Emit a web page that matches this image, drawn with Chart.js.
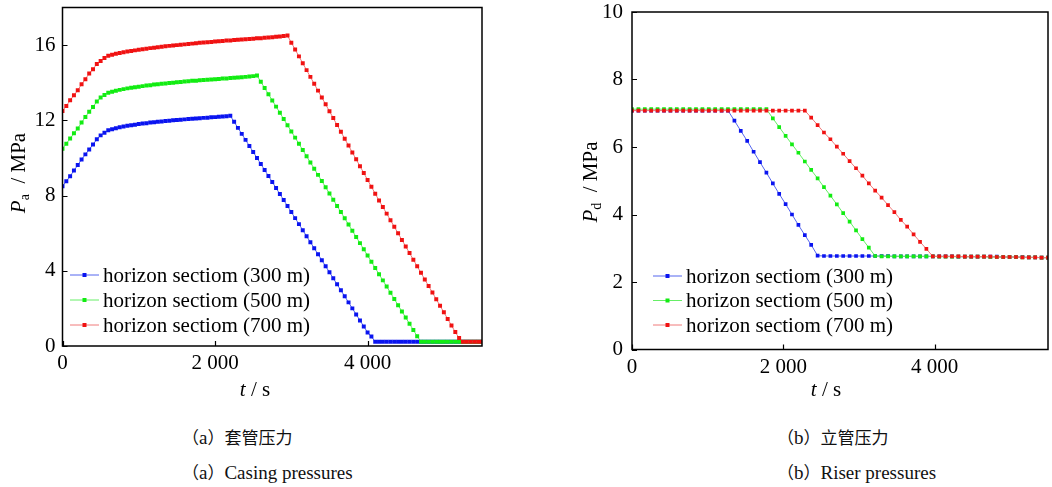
<!DOCTYPE html>
<html>
<head>
<meta charset="utf-8">
<script src="https://cdn.jsdelivr.net/npm/chart.js@4.4.1/dist/chart.umd.min.js"></script>
<style>
  html, body { margin: 0; padding: 0; background: #fff; overflow: hidden; }
  #page { position: relative; width: 1052px; height: 487px; }
  canvas { position: absolute; top: 0; }
  #casing-chart { left: 0; }
  #riser-chart { left: 540px; }
  .cap { position: absolute; white-space: nowrap; line-height: 1; color: #111; font-size: 17px; }
  .cn { font-family: "Noto Sans CJK SC", sans-serif; }
  .en { font-family: "Liberation Serif", "DejaVu Serif", serif; font-size: 19px; }
</style>
</head>
<body>
<div id="page">
  <canvas id="casing-chart" width="500" height="420"></canvas>
  <canvas id="riser-chart" width="512" height="420"></canvas>
  <div class="cap" style="left:182px;top:428px"><span class="cn">（</span><span class="en">a</span><span class="cn">）套管压力</span></div>
  <div class="cap" style="left:182px;top:463px"><span class="cn">（</span><span class="en">a</span><span class="cn">）</span><span class="en">Casing pressures</span></div>
  <div class="cap" style="left:777px;top:428px"><span class="cn">（</span><span class="en">b</span><span class="cn">）立管压力</span></div>
  <div class="cap" style="left:777px;top:463px"><span class="cn">（</span><span class="en">b</span><span class="cn">）</span><span class="en">Riser pressures</span></div>
</div>
<script>
// (a) casing pressure, one sample every 50 s
const casingTime = [
  0, 50, 100, 150, 200, 250, 300, 350, 400, 450,
  500, 550, 600, 650, 700, 750, 800, 850, 900, 950,
  1000, 1050, 1100, 1150, 1200, 1250, 1300, 1350, 1400, 1450,
  1500, 1550, 1600, 1650, 1700, 1750, 1800, 1850, 1900, 1950,
  2000, 2050, 2100, 2150, 2200, 2250, 2300, 2350, 2400, 2450,
  2500, 2550, 2600, 2650, 2700, 2750, 2800, 2850, 2900, 2950,
  3000, 3050, 3100, 3150, 3200, 3250, 3300, 3350, 3400, 3450,
  3500, 3550, 3600, 3650, 3700, 3750, 3800, 3850, 3900, 3950,
  4000, 4050, 4100, 4150, 4200, 4250, 4300, 4350, 4400, 4450,
  4500, 4550, 4600, 4650, 4700, 4750, 4800, 4850, 4900, 4950,
  5000, 5050, 5100, 5150, 5200, 5250, 5300, 5350, 5400, 5450,
  5500,
];
const casing300 = [
  8.50, 8.76, 9.03, 9.33, 9.62, 9.92, 10.19, 10.45, 10.72, 10.99,
  11.20, 11.34, 11.47, 11.53, 11.58, 11.63, 11.67, 11.71, 11.74, 11.77,
  11.80, 11.83, 11.85, 11.88, 11.90, 11.92, 11.94, 11.96, 11.98, 12.00,
  12.02, 12.03, 12.05, 12.07, 12.08, 12.10, 12.11, 12.13, 12.14, 12.16,
  12.17, 12.19, 12.20, 12.22, 12.24, 11.92, 11.60, 11.28, 10.96, 10.64,
  10.32, 10.00, 9.68, 9.36, 9.04, 8.72, 8.40, 8.08, 7.76, 7.44,
  7.12, 6.80, 6.48, 6.16, 5.84, 5.52, 5.20, 4.88, 4.56, 4.24,
  3.92, 3.60, 3.28, 2.96, 2.64, 2.32, 2.00, 1.68, 1.36, 1.04,
  0.72, 0.50, 0.23, 0.23, 0.23, 0.23, 0.23, 0.23, 0.23, 0.23,
  0.23, 0.23, 0.23, 0.23, 0.23, 0.23, 0.23, 0.23, 0.23, 0.23,
  0.23, 0.23, 0.23, 0.23, 0.23, 0.23, 0.23, 0.23, 0.23, 0.23,
  0.23,
];
const casing500 = [
  10.49, 10.76, 11.03, 11.31, 11.57, 11.88, 12.18, 12.46, 12.71, 13.00,
  13.21, 13.35, 13.47, 13.52, 13.57, 13.62, 13.66, 13.70, 13.73, 13.76,
  13.79, 13.82, 13.85, 13.87, 13.90, 13.92, 13.94, 13.96, 13.98, 14.00,
  14.02, 14.04, 14.06, 14.08, 14.10, 14.11, 14.13, 14.14, 14.16, 14.17,
  14.19, 14.20, 14.22, 14.23, 14.25, 14.26, 14.28, 14.29, 14.31, 14.33,
  14.35, 14.38, 14.05, 13.72, 13.39, 13.06, 12.73, 12.40, 12.07, 11.74,
  11.41, 11.08, 10.75, 10.42, 10.09, 9.76, 9.43, 9.10, 8.77, 8.44,
  8.11, 7.78, 7.45, 7.12, 6.79, 6.46, 6.13, 5.80, 5.47, 5.14,
  4.81, 4.48, 4.15, 3.82, 3.49, 3.16, 2.83, 2.50, 2.17, 1.84,
  1.51, 1.18, 0.85, 0.52, 0.23, 0.23, 0.23, 0.23, 0.23, 0.23,
  0.23, 0.23, 0.23, 0.23, 0.23, 0.23, 0.23, 0.23, 0.23, 0.23,
  0.23,
];
const casing700 = [
  12.50, 12.76, 13.07, 13.33, 13.60, 13.92, 14.19, 14.49, 14.72, 15.00,
  15.16, 15.31, 15.43, 15.49, 15.54, 15.58, 15.62, 15.66, 15.69, 15.72,
  15.75, 15.78, 15.81, 15.84, 15.86, 15.89, 15.91, 15.94, 15.96, 15.98,
  16.00, 16.02, 16.04, 16.06, 16.08, 16.10, 16.12, 16.14, 16.15, 16.17,
  16.19, 16.20, 16.22, 16.24, 16.25, 16.27, 16.28, 16.30, 16.31, 16.33,
  16.34, 16.36, 16.37, 16.39, 16.40, 16.42, 16.44, 16.46, 16.48, 16.51,
  16.13, 15.77, 15.40, 15.04, 14.67, 14.31, 13.94, 13.58, 13.21, 12.85,
  12.48, 12.12, 11.75, 11.39, 11.02, 10.66, 10.29, 9.93, 9.56, 9.20,
  8.83, 8.47, 8.10, 7.74, 7.39, 7.04, 6.69, 6.34, 5.99, 5.64,
  5.29, 4.94, 4.59, 4.24, 3.89, 3.54, 3.19, 2.84, 2.49, 2.14,
  1.79, 1.44, 1.09, 0.74, 0.42, 0.23, 0.23, 0.23, 0.23, 0.23,
  0.23,
];

// (b) riser pressure, one sample every ~85 s
const riserTime = [
  0, 85, 169, 254, 338, 423, 508, 592, 677, 762,
  846, 931, 1015, 1100, 1185, 1269, 1354, 1438, 1523, 1608,
  1692, 1777, 1862, 1946, 2031, 2115, 2200, 2285, 2369, 2454,
  2538, 2623, 2708, 2792, 2877, 2962, 3046, 3131, 3215, 3300,
  3385, 3469, 3554, 3638, 3723, 3808, 3892, 3977, 4062, 4146,
  4231, 4315, 4400, 4485, 4569, 4654, 4738, 4823, 4908, 4992,
  5077, 5162, 5246, 5331, 5415, 5500,
];
const riser300 = [
  7.08, 7.08, 7.08, 7.08, 7.08, 7.08, 7.08, 7.08, 7.08, 7.08,
  7.08, 7.08, 7.08, 7.08, 7.08, 7.08, 6.78, 6.48, 6.18, 5.86,
  5.55, 5.24, 4.92, 4.61, 4.31, 4.00, 3.69, 3.39, 3.10, 2.78,
  2.77, 2.77, 2.77, 2.77, 2.77, 2.77, 2.77, 2.77, 2.77, 2.77,
  2.77, 2.76, 2.76, 2.76, 2.76, 2.76, 2.76, 2.76, 2.76, 2.76,
  2.76, 2.75, 2.75, 2.75, 2.75, 2.75, 2.75, 2.75, 2.74, 2.74,
  2.74, 2.74, 2.73, 2.73, 2.72, 2.72,
];
const riser500 = [
  7.12, 7.12, 7.12, 7.12, 7.12, 7.12, 7.12, 7.12, 7.12, 7.12,
  7.12, 7.12, 7.12, 7.12, 7.12, 7.12, 7.12, 7.12, 7.12, 7.12,
  7.12, 7.12, 6.85, 6.59, 6.33, 6.08, 5.83, 5.57, 5.32, 5.07,
  4.81, 4.56, 4.30, 4.04, 3.79, 3.53, 3.27, 3.02, 2.77, 2.76,
  2.76, 2.76, 2.76, 2.76, 2.76, 2.76, 2.76, 2.76, 2.75, 2.75,
  2.75, 2.75, 2.75, 2.75, 2.75, 2.75, 2.74, 2.74, 2.74, 2.74,
  2.74, 2.73, 2.73, 2.73, 2.72, 2.72,
];
const riser700 = [
  7.08, 7.08, 7.08, 7.08, 7.08, 7.08, 7.08, 7.08, 7.08, 7.08,
  7.08, 7.08, 7.08, 7.08, 7.08, 7.08, 7.08, 7.08, 7.08, 7.08,
  7.08, 7.08, 7.08, 7.08, 7.08, 7.08, 7.08, 7.08, 6.87, 6.65,
  6.43, 6.23, 6.01, 5.80, 5.58, 5.37, 5.15, 4.92, 4.71, 4.50,
  4.28, 4.07, 3.84, 3.64, 3.41, 3.19, 2.98, 2.76, 2.76, 2.76,
  2.76, 2.76, 2.75, 2.75, 2.75, 2.75, 2.75, 2.74, 2.74, 2.74,
  2.74, 2.73, 2.73, 2.73, 2.72, 2.72,
];

const seriesLabels = ["horizon sectiom (300 m)", "horizon sectiom (500 m)", "horizon sectiom (700 m)"];
const markerColors = ["#0a14f0", "#12ec12", "#f01212"];
const lineColors = ["#5566ee", "#66ee66", "#f07a7a"];

const SERIF = '"Liberation Serif", "DejaVu Serif", serif';

function toPoints(times, values) {
  return times.map((t, i) => ({ x: t, y: values[i] }));
}

function isMajor(tick) {
  return tick.label !== null && tick.label !== undefined && tick.label !== "";
}

// box frame, inward ticks, in-plot legend and the mixed-style axis titles
const paperFrame = {
  id: "paperFrame",
  afterDatasetsDraw(chart, args, opts) {
    const { ctx, chartArea: a, scales: { x, y } } = chart;
    ctx.save();

    ctx.strokeStyle = "#000";
    ctx.lineWidth = 1.2;
    ctx.beginPath();
    y.ticks.forEach((tick) => {
      const py = Math.round(y.getPixelForValue(tick.value)) + 0.5;
      const len = isMajor(tick) ? 5 : 3;
      ctx.moveTo(a.left, py);
      ctx.lineTo(a.left + len, py);
    });
    x.ticks.forEach((tick) => {
      const px = Math.round(x.getPixelForValue(tick.value)) + 0.5;
      const len = isMajor(tick) ? 5 : 3;
      ctx.moveTo(px, a.bottom);
      ctx.lineTo(px, a.bottom - len);
    });
    ctx.stroke();

    ctx.lineWidth = 1.5;
    ctx.strokeRect(a.left, a.top, a.right - a.left, a.bottom - a.top);

    // legend: short line + marker + label
    const lg = opts.legend;
    ctx.font = `21px ${SERIF}`;
    ctx.textBaseline = "middle";
    ctx.fillStyle = "#000";
    chart.data.datasets.forEach((ds, i) => {
      const ly = lg.top + i * lg.gap;
      ctx.strokeStyle = ds.borderColor;
      ctx.lineWidth = 1;
      ctx.beginPath();
      ctx.moveTo(lg.left, ly);
      ctx.lineTo(lg.left + 29, ly);
      ctx.stroke();
      ctx.fillStyle = ds.pointBackgroundColor;
      ctx.fillRect(lg.left + 12.5, ly - 2, 4, 4);
      ctx.fillStyle = "#000";
      ctx.fillText(ds.label, lg.left + 33, ly + 1);
    });

    // x title: italic t / s
    const xt = opts.xTitle;
    ctx.textBaseline = "alphabetic";
    ctx.font = `italic 21px ${SERIF}`;
    const wT = ctx.measureText("t").width;
    ctx.font = `21px ${SERIF}`;
    const wRest = ctx.measureText(" / s").width;
    const sx = xt.cx - (wT + wRest) / 2;
    ctx.font = `italic 21px ${SERIF}`;
    ctx.fillText("t", sx, xt.cy + 7);
    ctx.font = `21px ${SERIF}`;
    ctx.fillText(" / s", sx + wT, xt.cy + 7);

    // y title: italic P with subscript, rotated
    const yt = opts.yTitle;
    ctx.translate(yt.cx, yt.cy);
    ctx.rotate(-Math.PI / 2);
    ctx.font = `italic 21px ${SERIF}`;
    const wP = ctx.measureText("P").width;
    ctx.font = `14px ${SERIF}`;
    const wSub = ctx.measureText(yt.sub).width;
    ctx.font = `21px ${SERIF}`;
    const wUnit = ctx.measureText("  / MPa").width;
    const sy = -(wP + wSub + wUnit) / 2;
    ctx.font = `italic 21px ${SERIF}`;
    ctx.fillText("P", sy, 7);
    ctx.font = `14px ${SERIF}`;
    ctx.fillText(yt.sub, sy + wP, 11);
    ctx.font = `21px ${SERIF}`;
    ctx.fillText("  / MPa", sy + wP + wSub, 7);

    ctx.restore();
  },
};

function buildDatasets(times, seriesValues, pointRadius) {
  return seriesValues.map((values, i) => ({
    label: seriesLabels[i],
    data: toPoints(times, values),
    borderColor: lineColors[i],
    borderWidth: 1,
    pointStyle: "rect",
    pointRadius,
    pointBorderWidth: 0,
    pointBackgroundColor: markerColors[i],
    tension: 0,
    order: 3 - i,
  }));
}

function timeTick(value) {
  if (value % 2000 !== 0) return null;
  return value === 0 ? "0" : `${value / 1000} 000`;
}

// fixed axis boxes so the plot area lands where the figure has it
function fixBox(scale, size) {
  if (scale.isHorizontal()) scale.height = size;
  else scale.width = size;
  scale.paddingTop = 0;
  scale.paddingBottom = 0;
  scale.paddingLeft = 0;
  scale.paddingRight = 0;
}

function makeChart(canvasId, times, seriesValues, cfg) {
  return new Chart(document.getElementById(canvasId), {
    type: "line",
    data: { datasets: buildDatasets(times, seriesValues, cfg.pointRadius) },
    plugins: [paperFrame],
    options: {
      responsive: false,
      animation: false,
      events: [],
      layout: { padding: cfg.padding },
      plugins: {
        legend: { display: false },
        tooltip: { enabled: false },
        paperFrame: { legend: cfg.legend, xTitle: cfg.xTitle, yTitle: cfg.yTitle },
      },
      scales: {
        x: {
          type: "linear",
          min: 0,
          max: 5500,
          grid: { display: false, drawTicks: false },
          border: { display: false },
          ticks: {
            stepSize: 500,
            autoSkip: false,
            maxRotation: 0,
            padding: 5,
            color: "#000",
            font: { family: SERIF, size: 21 },
            callback: timeTick,
          },
          afterFit: (scale) => fixBox(scale, cfg.xAxisHeight),
        },
        y: {
          min: 0,
          max: cfg.yMax,
          grid: { display: false, drawTicks: false },
          border: { display: false },
          ticks: {
            stepSize: 1,
            autoSkip: false,
            padding: cfg.yPad,
            color: "#000",
            font: { family: SERIF, size: 21 },
            callback: (v) => (v % cfg.yMajor === 0 ? String(v) : null),
          },
          afterFit: (scale) => fixBox(scale, cfg.yAxisWidth),
        },
      },
    },
  });
}

makeChart("casing-chart", casingTime, [casing300, casing500, casing700], {
  pointRadius: 2.8,
  padding: { top: 7.5, right: 18, left: 0, bottom: 0 },
  xAxisHeight: 74,
  yAxisWidth: 62.5,
  yMax: 18,
  yMajor: 4,
  yPad: 7,
  legend: { left: 70, top: 275, gap: 25 },
  xTitle: { cx: 255, cy: 389 },
  yTitle: { cx: 18, cy: 173, sub: "a" },
});

makeChart("riser-chart", riserTime, [riser300, riser500, riser700], {
  pointRadius: 2.6,
  padding: { top: 12, right: 1, left: 0, bottom: 0 },
  xAxisHeight: 70.5,
  yAxisWidth: 92,
  yMax: 10,
  yMajor: 2,
  yPad: 9,
  legend: { left: 113, top: 276, gap: 24.5 },
  xTitle: { cx: 286, cy: 389 },
  yTitle: { cx: 50, cy: 182, sub: "d" },
});
</script>
</body>
</html>
